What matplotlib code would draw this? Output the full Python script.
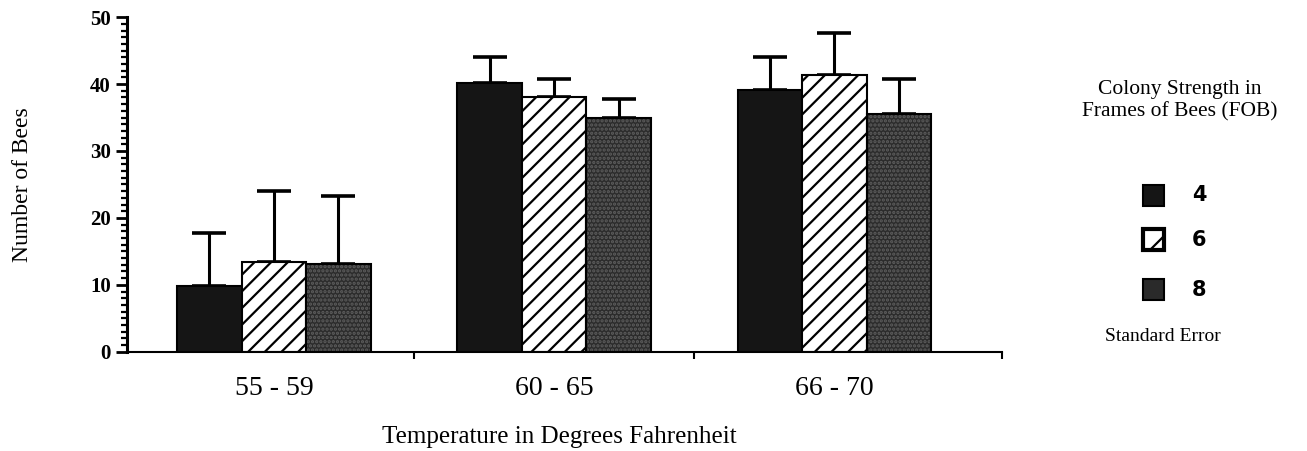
import matplotlib.pyplot as plt
from matplotlib.patches import Rectangle
import numpy as np

# Data
temps = ['55 - 59', '60 - 65', '66 - 70']
fob = ['4', '6', '8']
bees_4 = [9.9, 40.2, 39.1]
bees_6 = [13.4, 38.1, 41.3]
bees_8 = [13.1, 35.0, 35.6]
se_4 = [7.8, 3.9, 5.0]
se_6 = [10.6, 2.6, 6.4]
se_8 = [10.2, 2.7, 5.2]

plt.rcParams['font.family'] = 'Liberation Serif'
plt.rcParams['hatch.linewidth'] = 1.6

fig = plt.figure(figsize=(13.07, 4.51), dpi=100)
ax = fig.add_axes([0.097, 0.22, 0.67, 0.742])

x = np.arange(len(temps))
w = 0.23

# 4 FOB - solid black
ax.bar(x - w, bees_4, w, color='#151515', edgecolor='black', linewidth=1.5, zorder=2)
# 6 FOB - diagonal hatch
ax.bar(x, bees_6, w, color='white', edgecolor='black', hatch='//', linewidth=1.5, zorder=2)
# 8 FOB - dark stipple
ax.bar(x + w, bees_8, w, color='#2c2c2c', edgecolor='#5e5e5e', hatch='....', linewidth=0, zorder=2)
ax.bar(x + w, bees_8, w, color='none', edgecolor='black', linewidth=1.5, zorder=3)

for offs, vals, errs in [(-w, bees_4, se_4), (0, bees_6, se_6), (w, bees_8, se_8)]:
    ax.errorbar(x + offs, vals, yerr=[np.zeros(len(errs)), errs], fmt='none',
                ecolor='black', elinewidth=2.2, capsize=12, capthick=2.6, zorder=1)

ax.set_xlim(-0.525, 2.6)
ax.set_ylim(0, 50)
ax.set_yticks([0, 10, 20, 30, 40, 50])
ax.set_yticks(np.arange(0, 51, 1), minor=True)
ax.tick_params(axis='y', which='major', direction='out', length=8, width=2, labelsize=15)
ax.tick_params(axis='y', which='minor', direction='out', length=4, width=1.6)
for lab in ax.get_yticklabels():
    lab.set_fontweight('bold')

ax.set_xticks([0.5, 1.5, 2.6])
ax.set_xticklabels([])
ax.tick_params(axis='x', which='major', direction='out', length=5, width=1.5)
for xi, t in zip(x, temps):
    ax.text(xi, -5.5, t, ha='center', va='center', fontsize=20)

ax.spines['top'].set_visible(False)
ax.spines['right'].set_visible(False)
ax.spines['left'].set_linewidth(2.2)
ax.spines['bottom'].set_linewidth(1.5)

ax.set_ylabel('Number of Bees', fontsize=17)
ax.yaxis.set_label_coords(-0.107, 0.5)
ax.text(0.5 * (x[0] + x[-1]) + 0.02, -12.8, 'Temperature in Degrees Fahrenheit',
        ha='center', va='center', fontsize=18)

# legend drawn by hand
fig.text(0.903, 0.777, 'Colony Strength in\nFrames of Bees (FOB)', ha='center', va='center',
         fontsize=15.5, linespacing=1.2)
sq = 21 / 1307
sq_h = 21 / 451
leg_y = [0.567, 0.468, 0.358]
for i, lab in enumerate(fob):
    yy = leg_y[i]
    if i == 0:
        fig.patches.append(Rectangle((0.8745, yy - sq_h / 2), sq, sq_h, transform=fig.transFigure,
                                     facecolor='#151515', edgecolor='black', linewidth=1.5))
    elif i == 1:
        fig.patches.append(Rectangle((0.8745, yy - sq_h / 2), sq, sq_h, transform=fig.transFigure,
                                     facecolor='white', edgecolor='black', linewidth=3, hatch='/'))
    else:
        fig.patches.append(Rectangle((0.8745, yy - sq_h / 2), sq, sq_h, transform=fig.transFigure,
                                     facecolor='#2a2a2a', edgecolor='black', linewidth=1.5))
    fig.text(0.912, yy, lab, ha='left', va='center', fontsize=15, family='DejaVu Sans',
             fontweight='bold')

fig.text(0.89, 0.253, 'Standard Error', ha='center', va='center', fontsize=14)

fig.savefig('out.png', dpi=100)
